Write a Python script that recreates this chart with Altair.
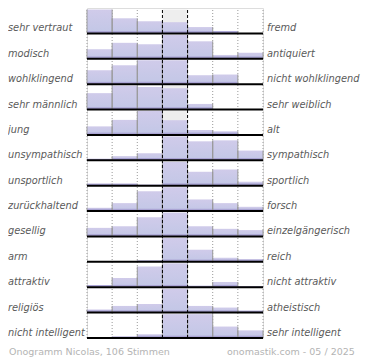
import altair as alt
import pandas as pd

left_labels = ["sehr vertraut", "modisch", "wohlklingend", "sehr männlich", "\u00a0jung",
               "unsympathisch", "unsportlich", "zurückhaltend", "gesellig", "arm",
               "attraktiv", "religiös", "nicht intelligent"]
right_labels = ["fremd", "antiquiert", "nicht wohlklingend", "sehr weiblich", "alt",
                "sympathisch", "sportlich", "forsch", "einzelgängerisch", "reich",
                "nicht attraktiv", "atheistisch", "sehr intelligent"]

row1 = [24.5, 15.5, 12.5, 11.5, 6.5, 2.5, 0]
row2 = [10, 16.7, 15.3, 25, 18.3, 4, 6.3]
row3 = [14, 19, 24, 24, 9, 9.7, 0]
row4 = [16.7, 24.3, 23, 21.7, 5.7, 0, 0]
row5 = [8.7, 15.3, 24.3, 15, 5, 3.7, 0]
row6 = [1.5, 4.3, 7.3, 24.5, 19.5, 20.5, 10]
row7 = [2, 2, 1, 24, 14, 16.3, 4]
row8 = [3.3, 8, 20, 24, 11.7, 8, 4.3]
row9 = [9, 10.7, 20, 25, 10.7, 8, 6.7]
row10 = [0, 0, 1.5, 25, 12.7, 4.3, 2.7]
row11 = [2.3, 9.7, 21.7, 25, 1.5, 5.5, 1]
row12 = [3.3, 7, 9, 25, 7, 5.3, 2]
row13 = [0, 1.5, 4, 25, 25, 12, 8]
rows_values = [row1, row2, row3, row4, row5, row6, row7, row8, row9, row10, row11, row12, row13]

footer_left = "Onogramm Nicolas, 106 Stimmen"
footer_right = "onomastik.com - 05 / 2025"

n_rows = len(left_labels)
n_cols = 7
fill_frac = 0.94

recs = []
for r, vals in enumerate(rows_values):
    for c, v in enumerate(vals):
        recs.append({"row": r, "col": c, "v": v})
bars_df = pd.DataFrame(recs)

rows_df = pd.DataFrame({"row": list(range(n_rows)), "left": left_labels, "right": right_labels})
grid_df = pd.DataFrame({"col": [0, 1, 2, 5, 6, 7]})
center_df = pd.DataFrame({"col": [3, 4]})

xs = alt.Scale(domain=[0, n_cols], nice=False, zero=False)
ys = alt.Scale(domain=[0, n_rows], nice=False, zero=False)

base_rows = alt.Chart(rows_df).transform_calculate(
    base=f"{n_rows - 1} - datum.row",
    top=f"{n_rows - 1} - datum.row + {fill_frac}",
    tx=f"{n_rows - 1} - datum.row + 0.08",
    c3="3", c4="4", c0="0", c7="7",
)

center_bg = base_rows.mark_rect(fill="#eeeeee").encode(
    x=alt.X("c3:Q", scale=xs, axis=None), x2="c4:Q",
    y=alt.Y("base:Q", scale=ys, axis=None), y2="top:Q",
)

grid = alt.Chart(grid_df).transform_calculate(y0="0", y1=str(n_rows)).mark_rule(
    color="#999999", strokeDash=[1, 2], strokeWidth=1
).encode(
    x=alt.X("col:Q", scale=xs, axis=None),
    y=alt.Y("y0:Q", scale=ys, axis=None), y2="y1:Q",
)

bars_base = alt.Chart(bars_df).transform_joinaggregate(
    vmax="max(v)", groupby=["row"]
).transform_calculate(
    base=f"{n_rows - 1} - datum.row",
    h=f"{fill_frac} * datum.v / datum.vmax",
    top=f"{n_rows - 1} - datum.row + {fill_frac} * datum.v / datum.vmax",
    strip=f"{n_rows - 1} - datum.row + min(0.09, {fill_frac} * datum.v / datum.vmax)",
    col2="datum.col + 1",
).transform_filter("datum.v > 0")

grad = alt.Gradient(
    gradient="linear",
    stops=[alt.GradientStop(color="#d0cbea", offset=0),
           alt.GradientStop(color="#c2c7e6", offset=1)],
    x1=0, x2=0, y1=0, y2=1,
)

bars = bars_base.mark_rect(fill=grad).encode(
    x=alt.X("col:Q", scale=xs, axis=None), x2="col2:Q",
    y=alt.Y("base:Q", scale=ys, axis=None), y2="top:Q",
)

strip = bars_base.mark_rect(fill="#aaa4d4").encode(
    x=alt.X("col:Q", scale=xs, axis=None), x2="col2:Q",
    y=alt.Y("base:Q", scale=ys, axis=None), y2="strip:Q",
)

edge_r = bars_base.mark_rule(color="#999999", strokeWidth=1).encode(
    x=alt.X("col2:Q", scale=xs, axis=None),
    y=alt.Y("base:Q", scale=ys, axis=None), y2="top:Q",
)
edge_l = bars_base.mark_rule(color="#999999", strokeWidth=1).encode(
    x=alt.X("col:Q", scale=xs, axis=None),
    y=alt.Y("base:Q", scale=ys, axis=None), y2="top:Q",
)

center_lines = alt.Chart(center_df).transform_calculate(y0="0", y1=str(n_rows)).mark_rule(
    color="#000000", strokeDash=[3, 2], strokeWidth=1
).encode(
    x=alt.X("col:Q", scale=xs, axis=None),
    y=alt.Y("y0:Q", scale=ys, axis=None), y2="y1:Q",
)

baselines = base_rows.mark_rule(color="#000000", strokeWidth=2).encode(
    x=alt.X("c0:Q", scale=xs, axis=None), x2="c7:Q",
    y=alt.Y("base:Q", scale=ys, axis=None),
)

label_style = dict(font="DejaVu Sans", fontSize=9.8, fontStyle="italic", color="#5a5a5a",
                   baseline="alphabetic")

left_text = base_rows.mark_text(align="left", **label_style).encode(
    x=alt.value(-79), y=alt.Y("tx:Q", scale=ys, axis=None), text="left:N",
)
right_text = base_rows.mark_text(align="left", **label_style).encode(
    x=alt.value(180), y=alt.Y("tx:Q", scale=ys, axis=None), text="right:N",
)

foot_df = pd.DataFrame({"t": [footer_left]})
foot_df2 = pd.DataFrame({"t": [footer_right]})
foot_style = dict(font="DejaVu Sans", fontSize=9.5, color="#b4b4b4", baseline="alphabetic")
foot_l = alt.Chart(foot_df).mark_text(align="left", **foot_style).encode(
    x=alt.value(-78), y=alt.value(347), text="t:N")
foot_r = alt.Chart(foot_df2).mark_text(align="left", **foot_style).encode(
    x=alt.value(140), y=alt.value(347), text="t:N")

chart = alt.layer(
    center_bg, grid, bars, strip, edge_r, edge_l, center_lines, baselines,
    left_text, right_text, foot_l, foot_r
).properties(
    width=176, height=330,
    padding={"left": 79, "top": 0, "right": 99, "bottom": 22},
    autosize=alt.AutoSizeParams(type="none"),
).configure_view(stroke=None).configure(background="white")

chart.save("out.html", embed_options={"renderer": "svg", "actions": False})
